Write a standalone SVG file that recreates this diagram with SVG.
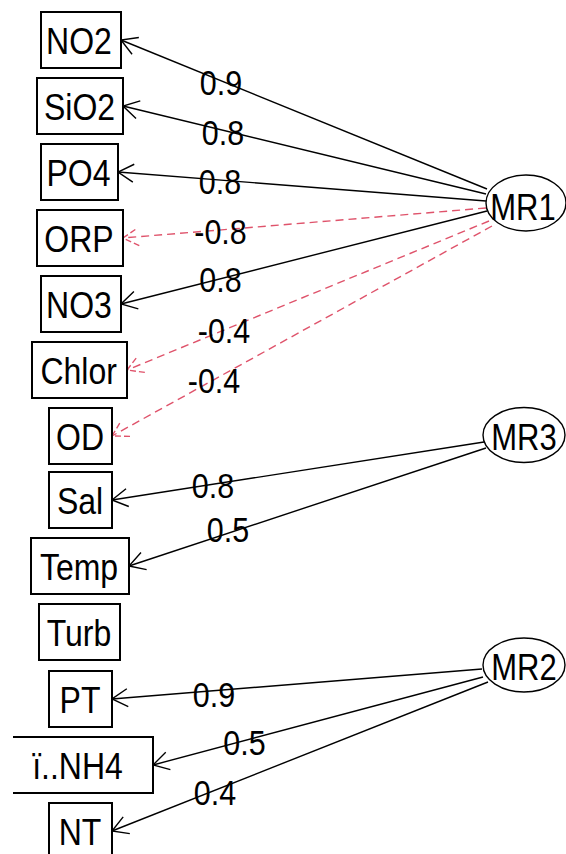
<svg xmlns="http://www.w3.org/2000/svg" width="566" height="854" viewBox="0 0 566 854">
  <style>
    .box { fill: #fff; stroke: #000; stroke-width: 2; }
    .fac { fill: #fff; stroke: #000; stroke-width: 1.4; }
    .t { font-family: "Liberation Sans", Arial, sans-serif; font-size: 32px; fill: #000; text-anchor: middle; }
    .ft { font-family: "Liberation Sans", Arial, sans-serif; font-size: 31px; fill: #000; text-anchor: middle; }
    .lab { font-family: "Liberation Sans", Arial, sans-serif; font-size: 30.5px; fill: #000; text-anchor: middle; }
    .pos { stroke: #000; stroke-width: 1.4; fill: none; marker-end: url(#arrowBlack); }
    .neg { stroke: #DF536B; stroke-width: 1.4; fill: none; stroke-dasharray: 8 5; marker-end: url(#arrowRed); }
  </style>
  <defs>
    <marker id="arrowBlack" markerUnits="userSpaceOnUse" orient="auto" refX="0" refY="0" markerWidth="20" markerHeight="20" overflow="visible">
      <path d="M-15.6,-9 L0,0 L-15.6,9" fill="none" stroke="#000" stroke-width="1.4"/>
    </marker>
    <marker id="arrowRed" markerUnits="userSpaceOnUse" orient="auto" refX="0" refY="0" markerWidth="20" markerHeight="20" overflow="visible">
      <path d="M-15.6,-9 L0,0 L-15.6,9" fill="none" stroke="#DF536B" stroke-width="1.4" stroke-dasharray="6 3"/>
    </marker>
  </defs>
  <rect width="566" height="854" fill="#fff"/>

  <!-- loadings -->
  <g id="connectors">
    <line class="pos" x1="487" y1="189" x2="121" y2="40"/>
    <line class="pos" x1="486" y1="194" x2="123" y2="106"/>
    <line class="pos" x1="486" y1="201" x2="118" y2="172"/>
    <line class="neg" x1="486" y1="208" x2="123" y2="238"/>
    <line class="pos" x1="487" y1="211" x2="121" y2="304"/>
    <line class="neg" x1="489" y1="221" x2="127" y2="370"/>
    <line class="neg" x1="492" y1="226" x2="112" y2="436"/>
    <line class="pos" x1="484" y1="442" x2="112" y2="500"/>
    <line class="pos" x1="486" y1="448" x2="129" y2="566"/>
    <line class="pos" x1="482" y1="669" x2="112" y2="699"/>
    <line class="pos" x1="483" y1="677" x2="153" y2="765"/>
    <line class="pos" x1="488" y1="682" x2="112" y2="831"/>

    <text class="lab" transform="translate(221,95) scale(1,1.15)">0.9</text>
    <text class="lab" transform="translate(223,145) scale(1,1.15)">0.8</text>
    <text class="lab" transform="translate(220,194) scale(1,1.15)">0.8</text>
    <text class="lab" transform="translate(220.5,244) scale(1,1.15)">-0.8</text>
    <text class="lab" transform="translate(220.5,292) scale(1,1.15)">0.8</text>
    <text class="lab" transform="translate(224,343) scale(1,1.15)">-0.4</text>
    <text class="lab" transform="translate(214,393) scale(1,1.15)">-0.4</text>
    <text class="lab" transform="translate(213,498) scale(1,1.15)">0.8</text>
    <text class="lab" transform="translate(228,542) scale(1,1.15)">0.5</text>
    <text class="lab" transform="translate(214,707) scale(1,1.15)">0.9</text>
    <text class="lab" transform="translate(244.5,755) scale(1,1.15)">0.5</text>
    <text class="lab" transform="translate(215,805) scale(1,1.15)">0.4</text>
  </g>

  <!-- observed variables -->
  <g id="NO2"><rect class="box" x="41" y="12" width="80" height="56"/><text class="t" transform="translate(79,54) scale(1,1.17)">NO2</text></g>
  <g id="SiO2"><rect class="box" x="37" y="78" width="86" height="56"/><text class="t" transform="translate(79.5,120) scale(1,1.17)">SiO2</text></g>
  <g id="PO4"><rect class="box" x="41" y="144" width="77" height="56"/><text class="t" transform="translate(78.5,186) scale(1,1.17)">PO4</text></g>
  <g id="ORP"><rect class="box" x="37" y="210" width="86" height="56"/><text class="t" transform="translate(79,252) scale(1,1.17)">ORP</text></g>
  <g id="NO3"><rect class="box" x="41" y="276" width="80" height="56"/><text class="t" transform="translate(79,318) scale(1,1.17)">NO3</text></g>
  <g id="Chlor"><rect class="box" x="32" y="342" width="95" height="56"/><text class="t" transform="translate(78.7,384) scale(1,1.17)">Chlor</text></g>
  <g id="OD"><rect class="box" x="49" y="408" width="63" height="56"/><text class="t" transform="translate(80,450) scale(1,1.17)">OD</text></g>
  <g id="Sal"><rect class="box" x="49" y="472" width="63" height="56"/><text class="t" transform="translate(80,514) scale(1,1.17)">Sal</text></g>
  <g id="Temp"><rect class="box" x="31" y="538" width="98" height="56"/><text class="t" transform="translate(79,580) scale(1,1.17)">Temp</text></g>
  <g id="Turb"><rect class="box" x="39" y="604" width="81" height="56"/><text class="t" transform="translate(79,646) scale(1,1.17)">Turb</text></g>
  <g id="PT"><rect class="box" x="49" y="671" width="63" height="56"/><text class="t" transform="translate(80,713) scale(1,1.17)">PT</text></g>
  <g id="NH4"><path d="M13,737 H153 V793 H13" fill="#fff" stroke="#000" stroke-width="2"/><text class="t" transform="translate(77.5,779) scale(1,1.17)">ï..NH4</text></g>
  <g id="NT"><rect class="box" x="49" y="803" width="63" height="56"/><text class="t" transform="translate(80,845) scale(1,1.17)">NT</text></g>

  <!-- factors -->
  <g id="MR1"><ellipse class="fac" cx="526" cy="203" rx="40" ry="28"/><text class="ft" transform="translate(523,220) scale(1,1.17)">MR1</text></g>
  <g id="MR3"><ellipse class="fac" cx="524" cy="435" rx="41" ry="27.5"/><text class="ft" transform="translate(524,450) scale(1,1.17)">MR3</text></g>
  <g id="MR2"><ellipse class="fac" cx="524" cy="665" rx="41" ry="27"/><text class="ft" transform="translate(524,680) scale(1,1.17)">MR2</text></g>
</svg>
